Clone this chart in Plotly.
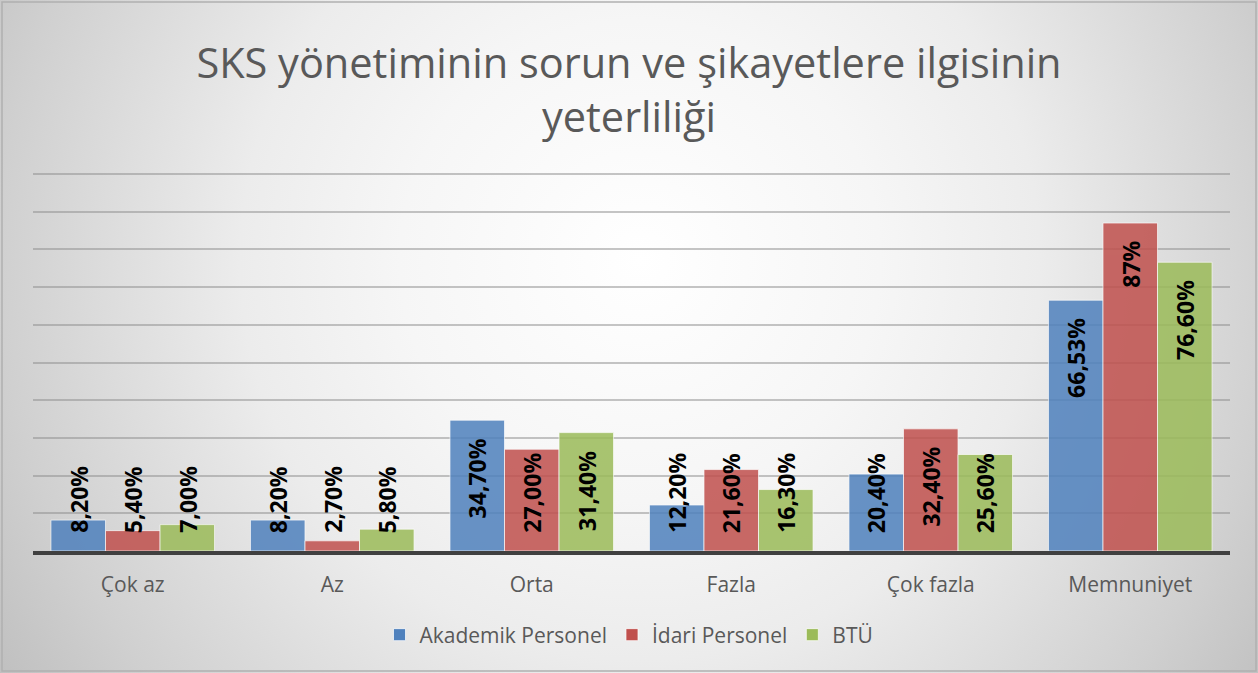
import plotly.graph_objects as go

# ─── Data ─────────────────────────────────────────────────────────────────────
categories = ["Çok az", "Az", "Orta", "Fazla", "Çok fazla", "Memnuniyet"]
akademik = [8.20, 8.20, 34.70, 12.20, 20.40, 66.53]
idari = [5.40, 2.70, 27.00, 21.60, 32.40, 87.00]
btu = [7.00, 5.80, 31.40, 16.30, 25.60, 76.60]
labels_akademik = ["8,20%", "8,20%", "34,70%", "12,20%", "20,40%", "66,53%"]
labels_idari = ["5,40%", "2,70%", "27,00%", "21,60%", "32,40%", "87%"]
labels_btu = ["7,00%", "5,80%", "31,40%", "16,30%", "25,60%", "76,60%"]

series = [
    ("Akademik Personel", akademik, labels_akademik, "#4F81BD"),
    ("İdari Personel", idari, labels_idari, "#C0504D"),
    ("BTÜ", btu, labels_btu, "#9BBB59"),
]

# ─── Layout constants ─────────────────────────────────────────────────────────
W, H = 1258, 673
FONT = "'Open Sans', 'Noto Sans', sans-serif"
GREY_TEXT = "#595959"
BARGAP = 0.18
PLOT_L, PLOT_R, PLOT_T, PLOT_B = 33, 1230, 172.5, 551
YMAX = 100.4   # a hair over 100 so the top gridline is still drawn
PX_PER_UNIT = (PLOT_B - PLOT_T) / YMAX

fig = go.Figure()

# Radial background (Excel-style gradient), on its own full-page subplot
cx, cy, r = 640 / W, (H - 260) / H, 800
rx, ry = r / W, r / H
fig.add_trace(go.Scatter(
    x=[cx - rx, cx + rx, cx + rx, cx - rx, cx - rx],
    y=[cy - ry, cy - ry, cy + ry, cy + ry, cy - ry],
    mode="lines", line=dict(width=0), fill="toself",
    fillgradient=dict(type="radial", colorscale=[
        [0.0, "#ffffff"], [0.3, "#f6f6f6"], [0.5, "#ececec"],
        [0.8, "#d0d0d0"], [0.95, "#c0c0c0"], [1.0, "#bababa"]]),
    hoverinfo="skip", showlegend=False, xaxis="x", yaxis="y",
))

# Bars
xs = list(range(len(categories)))
bw = (1 - BARGAP) / len(series)
annotations = []
for j, (name, vals, labs, color) in enumerate(series):
    fig.add_trace(go.Bar(
        name=name, x=xs, y=vals,
        marker=dict(color=color, opacity=0.85, line=dict(color="rgba(255,255,255,0.7)", width=1)),
        xaxis="x2", yaxis="y2",
        hovertemplate=f"{name}<br>%{{y}}%<extra></extra>",
    ))
    # labels: inside end, but kept above the base on short bars
    for i, (v, lab) in enumerate(zip(vals, labs)):
        xpos = i + (j - 1) * bw
        length = 12 * len(lab) / PX_PER_UNIT
        top = v - 16 / PX_PER_UNIT
        bottom_min = 16 / PX_PER_UNIT
        if top - length < bottom_min:
            y, ya = bottom_min, "bottom"
        else:
            y, ya = top, "top"
        annotations.append(dict(
            x=xpos, y=y, xref="x2", yref="y2", text=lab, textangle=-90,
            showarrow=False, xanchor="center", yanchor=ya,
            font=dict(family=FONT, size=23, color="#000000", weight="bold"),
        ))

fig.update_layout(
    width=W, height=H,
    margin=dict(l=0, r=0, t=0, b=0),
    paper_bgcolor="#ffffff",
    plot_bgcolor="rgba(0,0,0,0)",
    font=dict(family=FONT, color=GREY_TEXT),
    title=dict(
        text="SKS yönetiminin sorun ve şikayetlere ilgisinin<br>yeterliliği",
        x=0.5, xanchor="center", y=(H - 78) / H, yanchor="middle", yref="paper",
        font=dict(family=FONT, size=41.5, color=GREY_TEXT),
    ),
    xaxis=dict(domain=[0, 1], range=[0, 1], visible=False, fixedrange=True),
    yaxis=dict(domain=[0, 1], range=[0, 1], visible=False, fixedrange=True),
    xaxis2=dict(
        domain=[PLOT_L / W, PLOT_R / W], anchor="y2",
        range=[-0.5, len(categories) - 0.5],
        tickvals=xs, ticktext=categories,
        tickfont=dict(family=FONT, size=21, color=GREY_TEXT),
        showgrid=False, zeroline=False,
        showline=True, linecolor="#404040", linewidth=4,
        ticks="", ticklabelstandoff=12,
    ),
    yaxis2=dict(
        domain=[(H - PLOT_B) / H, (H - PLOT_T) / H], anchor="x2",
        range=[0, YMAX], tick0=0, dtick=10, showticklabels=False,
        showgrid=True, gridcolor="rgba(140,140,140,0.5)", gridwidth=2,
        zeroline=False, showline=False,
    ),
    barmode="group", bargap=BARGAP, bargroupgap=0,
    legend=dict(
        orientation="h", x=0.5, xanchor="center", y=(H - 635) / H, yanchor="middle",
        font=dict(family=FONT, size=21, color=GREY_TEXT),
        bgcolor="rgba(0,0,0,0)", itemwidth=30,
    ),
    annotations=annotations,
    shapes=[dict(
        type="rect", xref="paper", yref="paper",
        x0=2 / W, x1=(W - 2) / W, y0=2 / H, y1=(H - 2) / H,
        line=dict(color="#b0b0b0", width=1.5), layer="above",
    )],
)

# page body has a default 8px margin; drop it so the chart sits at the origin
fig.write_html("out.html", config={"displayModeBar": False},
               post_script="document.body.style.margin='0';")
